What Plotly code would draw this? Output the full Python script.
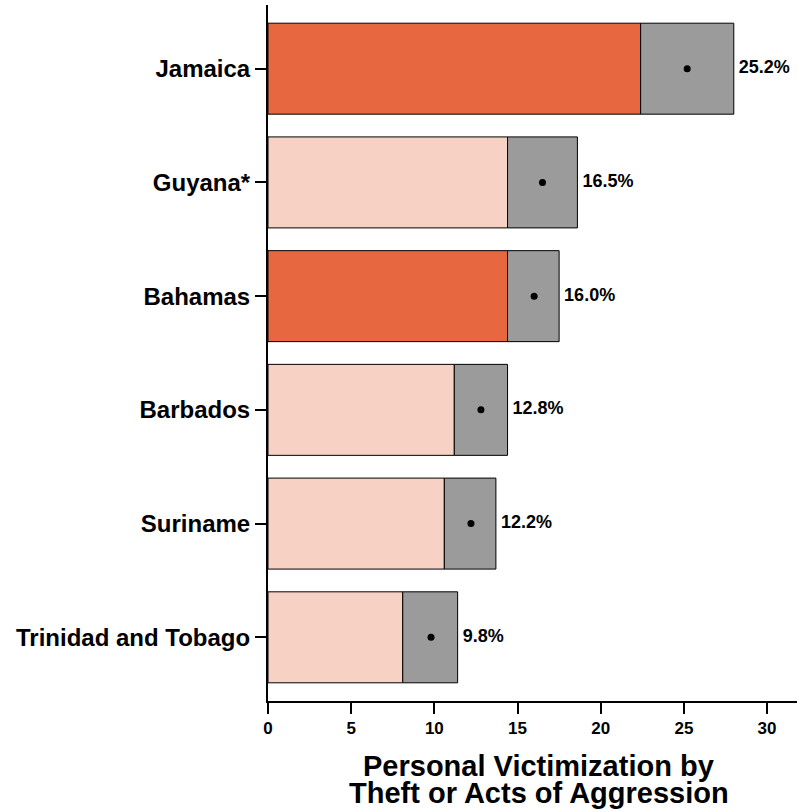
import plotly.graph_objects as go

countries = ["Jamaica", "Guyana*", "Bahamas", "Barbados", "Suriname", "Trinidad and Tobago"]
estimate = [25.2, 16.5, 16.0, 12.8, 12.2, 9.8]
lower = [22.4, 14.4, 14.4, 11.2, 10.6, 8.1]
upper = [28.0, 18.6, 17.5, 14.4, 13.7, 11.4]
highlight = [True, False, True, False, False, False]
labels = ["25.2%", "16.5%", "16.0%", "12.8%", "12.2%", "9.8%"]
title_lines = ["Personal Victimization by", "Theft or Acts of Aggression"]

dark = "#E66740"
light = "#F7D1C4"
grey = "#9B9B9B"
font = "Liberation Sans"

fig = go.Figure()

fig.add_trace(go.Bar(
    y=countries, x=lower, orientation="h", width=0.8,
    marker_color=[dark if h else light for h in highlight],
    marker_line_color="black", marker_line_width=1,
    hoverinfo="skip", showlegend=False))

fig.add_trace(go.Bar(
    y=countries, x=[u - l for u, l in zip(upper, lower)], base=lower,
    orientation="h", width=0.8,
    marker_color=grey, marker_line_color="black", marker_line_width=1,
    hoverinfo="skip", showlegend=False))

fig.add_trace(go.Scatter(
    y=countries, x=estimate, mode="markers",
    marker=dict(color="black", size=7), showlegend=False))

# value labels just right of the upper bound
fig.add_trace(go.Scatter(
    y=countries, x=upper, mode="text",
    text=["<b>\u00a0" + t + "</b>" for t in labels],
    textposition="middle right",
    textfont=dict(family=font, size=18, color="black"),
    showlegend=False, cliponaxis=False))

fig.update_layout(
    width=798, height=812,
    barmode="overlay",
    plot_bgcolor="white", paper_bgcolor="white",
    margin=dict(l=268, r=1, t=5, b=111),
    font=dict(family=font, color="black"),
)

# axis title as two tight lines
for i, line in enumerate(title_lines):
    fig.add_annotation(
        text="<b>" + line + "</b>", xref="paper", yref="paper",
        x=0.5, y=0, xshift=6, yshift=-65 - 27 * i,
        xanchor="center", yanchor="middle", showarrow=False,
        font=dict(family=font, size=29, color="black"))

fig.update_xaxes(
    range=[0, 31.8], tickvals=[0, 5, 10, 15, 20, 25, 30],
    automargin=False,
    showgrid=False, zeroline=False,
    showline=True, linecolor="black", linewidth=2,
    ticks="outside", ticklen=11, tickwidth=2, tickcolor="black",
    tickfont=dict(family=font, size=17, color="black", weight="bold"),
)

fig.update_yaxes(
    categoryorder="array", categoryarray=countries[::-1],
    range=[-0.56, 5.56],
    automargin=False,
    showgrid=False, zeroline=False,
    showline=True, linecolor="black", linewidth=2,
    ticks="outside", ticklen=11, tickwidth=2, tickcolor="black",
    tickfont=dict(family=font, size=24, color="black", weight="bold"),
)

fig.write_html("out.html", config={"displayModeBar": False},
               post_script="document.body.style.margin='0';")
